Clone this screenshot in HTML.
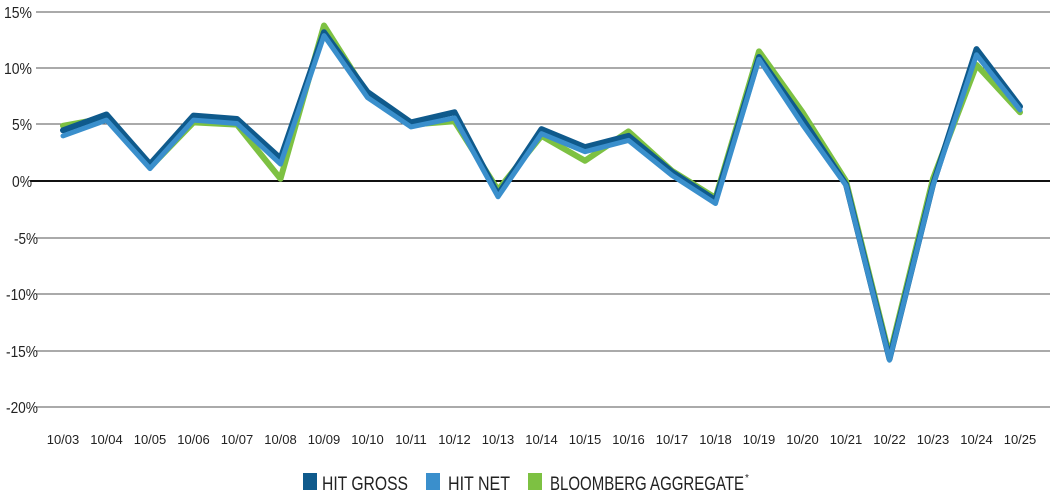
<!DOCTYPE html>
<html><head><style>
body{margin:0;background:#fff;width:1050px;height:495px;overflow:hidden}
svg text{font-family:"Liberation Sans Narrow","Liberation Sans",sans-serif;fill:#222}
</style></head><body>
<svg width="1050" height="495" viewBox="0 0 1050 495">
<g stroke="#555" stroke-width="1">
<line x1="36" y1="12" x2="1050" y2="12"/>
<line x1="36" y1="68" x2="1050" y2="68"/>
<line x1="36" y1="124" x2="1050" y2="124"/>
<line x1="36" y1="238" x2="1050" y2="238"/>
<line x1="36" y1="294" x2="1050" y2="294"/>
<line x1="36" y1="351" x2="1050" y2="351"/>
<line x1="36" y1="407" x2="1050" y2="407"/>
</g>
<line x1="30" y1="181" x2="1050" y2="181" stroke="#111" stroke-width="2"/>
<g font-size="16" text-anchor="end">
<text x="32" y="18" textLength="28" lengthAdjust="spacingAndGlyphs">15%</text><text x="32" y="74" textLength="28" lengthAdjust="spacingAndGlyphs">10%</text><text x="32" y="130" textLength="20" lengthAdjust="spacingAndGlyphs">5%</text>
<text x="32" y="187" textLength="20" lengthAdjust="spacingAndGlyphs">0%</text><text x="38" y="244" textLength="24" lengthAdjust="spacingAndGlyphs">-5%</text><text x="38" y="300" textLength="32" lengthAdjust="spacingAndGlyphs">-10%</text>
<text x="38" y="357" textLength="32" lengthAdjust="spacingAndGlyphs">-15%</text><text x="38" y="413" textLength="32" lengthAdjust="spacingAndGlyphs">-20%</text>
</g>
<g transform="translate(63,181) scale(43.5,-11.27)" fill="none" stroke-linejoin="round" stroke-linecap="round">
<polyline vector-effect="non-scaling-stroke" stroke="#7dc142" stroke-width="6" points="0,4.9 1,5.6 2,1.2 3,5.2 4,5 5,0.2 6,13.8 7,7.7 8,5 9,5.3 10,-0.8 11,4 12,1.8 13,4.4 14,0.9 15,-1.5 16,11.5 17,6.1 18,0 19,-15.5 20,0.2 21,10.3 22,6.1"/>
<polyline vector-effect="non-scaling-stroke" stroke="#0f5a8c" stroke-width="6" points="0,4.5 1,5.9 2,1.5 3,5.8 4,5.5 5,2 6,13.2 7,7.9 8,5.2 9,6.1 10,-1.2 11,4.6 12,3 13,4 14,0.8 15,-1.7 16,11 17,5.5 18,-0.3 19,-15.8 20,-0.3 21,11.7 22,6.6"/>
<polyline vector-effect="non-scaling-stroke" stroke="#3a8fcc" stroke-width="5" points="0,4 1,5.4 2,1.1 3,5.4 4,5.1 5,1.5 6,12.9 7,7.4 8,4.8 9,5.6 10,-1.4 11,4.2 12,2.6 13,3.6 14,0.5 15,-2 16,10.8 17,5 18,-0.4 19,-15.9 20,-0.4 21,11.2 22,6.3"/>
</g>
<g font-size="13" text-anchor="middle">
<text x="63" y="444">10/03</text><text x="106.5" y="444">10/04</text><text x="150" y="444">10/05</text>
<text x="193.5" y="444">10/06</text><text x="237" y="444">10/07</text><text x="280.5" y="444">10/08</text>
<text x="324" y="444">10/09</text><text x="367.5" y="444">10/10</text><text x="411" y="444">10/11</text>
<text x="454.5" y="444">10/12</text><text x="498" y="444">10/13</text><text x="541.5" y="444">10/14</text>
<text x="585" y="444">10/15</text><text x="628.5" y="444">10/16</text><text x="672" y="444">10/17</text>
<text x="715.5" y="444">10/18</text><text x="759" y="444">10/19</text><text x="802.5" y="444">10/20</text>
<text x="846" y="444">10/21</text><text x="889.5" y="444">10/22</text><text x="933" y="444">10/23</text>
<text x="976.5" y="444">10/24</text><text x="1020" y="444">10/25</text>
</g>
<g font-size="19">
<rect x="303" y="473" width="14" height="17" fill="#0f5a8c"/><text x="322" y="490" textLength="86" lengthAdjust="spacingAndGlyphs">HIT GROSS</text>
<rect x="426" y="473" width="14" height="17" fill="#3a8fcc"/><text x="448" y="490" textLength="62" lengthAdjust="spacingAndGlyphs">HIT NET</text>
<rect x="528" y="473" width="14" height="17" fill="#7dc142"/><text x="550" y="490" textLength="194" lengthAdjust="spacingAndGlyphs">BLOOMBERG AGGREGATE</text>
<text x="745" y="481" font-size="10">*</text>
</g>
</svg>
</body></html>
